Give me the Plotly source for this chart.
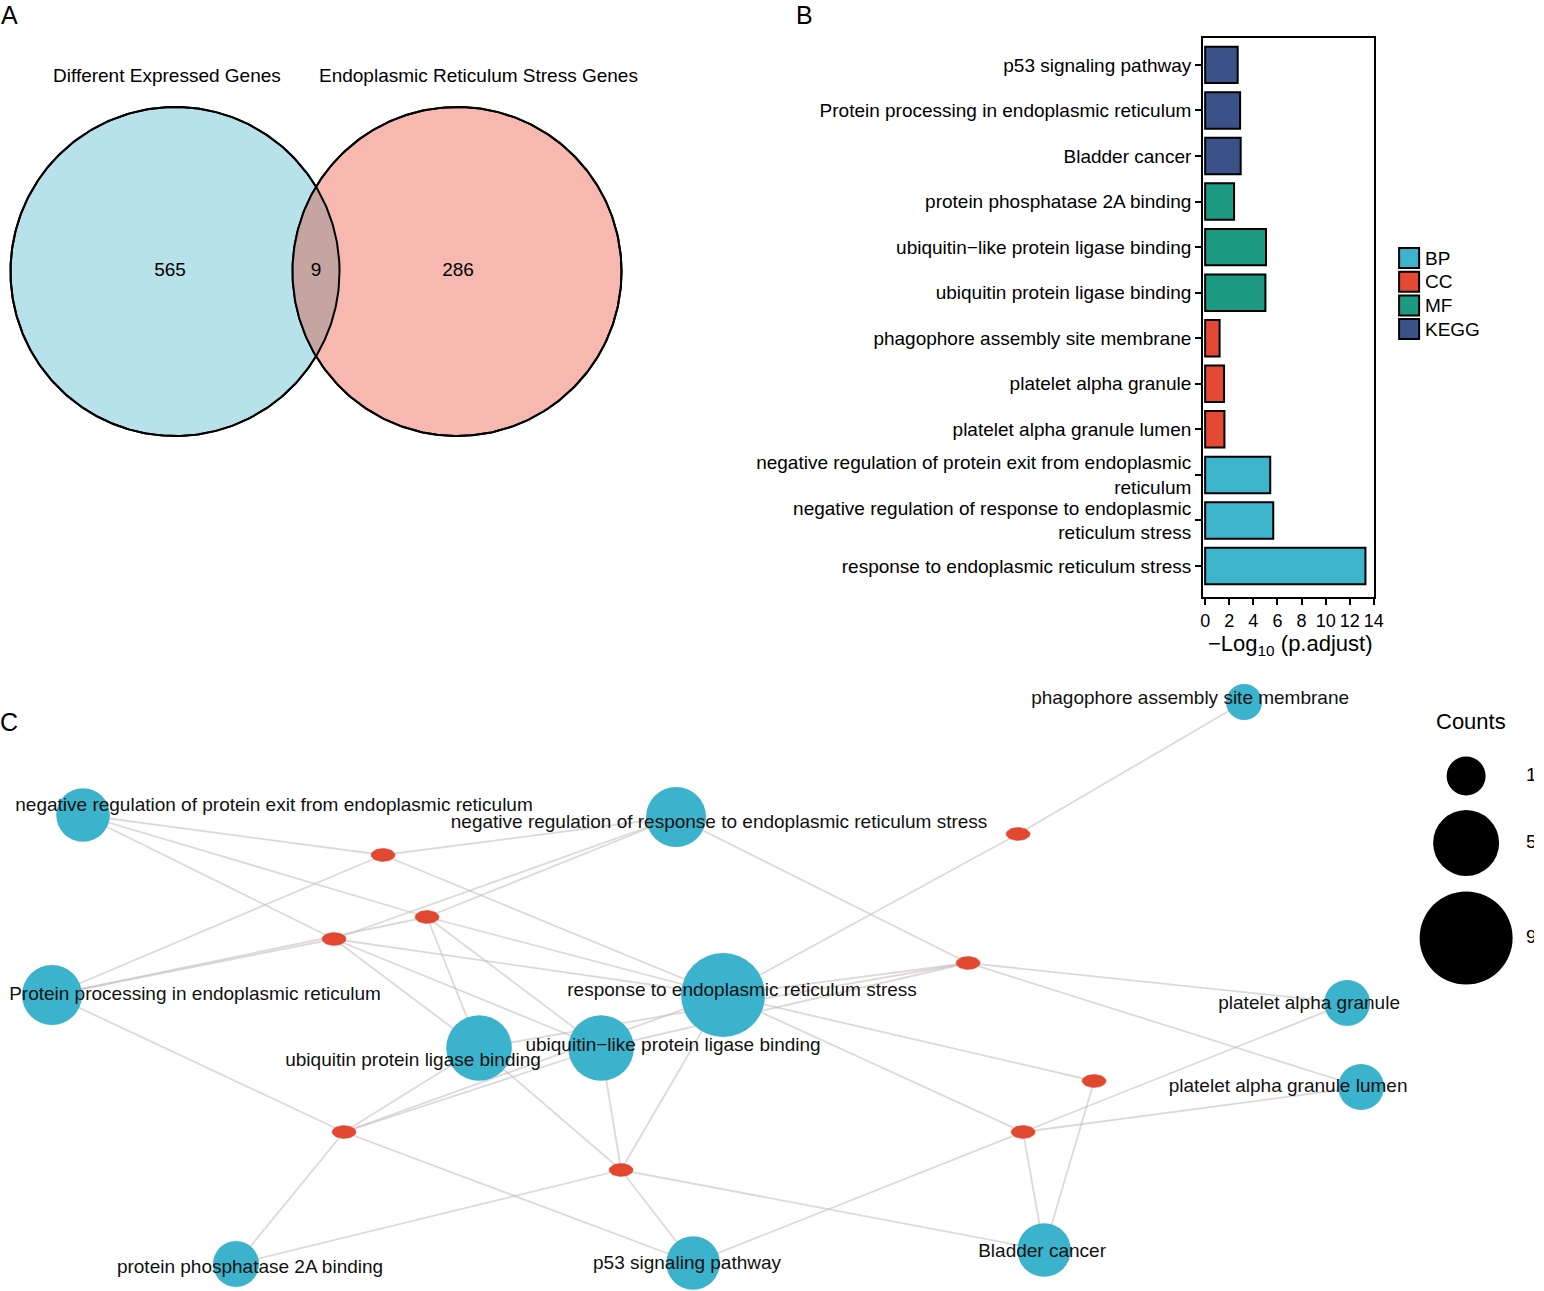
import numpy as np
import plotly.graph_objects as go

W, H = 1544, 1291
FONT = "Liberation Sans, Arial, Helvetica, sans-serif"

# ---------------- Panel A data ----------------
venn_set_names = ["Different Expressed Genes", "Endoplasmic Reticulum Stress Genes"]
venn_only_left = 565
venn_overlap = 9
venn_only_right = 286

# ---------------- Panel B data ----------------
enrich_terms = [
    "p53 signaling pathway",
    "Protein processing in endoplasmic reticulum",
    "Bladder cancer",
    "protein phosphatase 2A binding",
    "ubiquitin\u2212like protein ligase binding",
    "ubiquitin protein ligase binding",
    "phagophore assembly site membrane",
    "platelet alpha granule",
    "platelet alpha granule lumen",
    "negative regulation of protein exit from endoplasmic<br>reticulum",
    "negative regulation of response to endoplasmic<br>reticulum stress",
    "response to endoplasmic reticulum stress",
]
enrich_ontology = ["KEGG", "KEGG", "KEGG", "MF", "MF", "MF", "CC", "CC", "CC", "BP", "BP", "BP"]
enrich_neglog10_padj = [2.7, 2.9, 2.95, 2.4, 5.05, 5.0, 1.2, 1.57, 1.6, 5.4, 5.65, 13.3]
ontology_levels = ["BP", "CC", "MF", "KEGG"]
x_ticks_b = [0, 2, 4, 6, 8, 10, 12, 14]

# ---------------- Panel C data ----------------
net_terms = [
    "negative regulation of protein exit from endoplasmic reticulum",
    "negative regulation of response to endoplasmic reticulum stress",
    "Protein processing in endoplasmic reticulum",
    "response to endoplasmic reticulum stress",
    "ubiquitin protein ligase binding",
    "ubiquitin\u2212like protein ligase binding",
    "phagophore assembly site membrane",
    "platelet alpha granule",
    "platelet alpha granule lumen",
    "protein phosphatase 2A binding",
    "p53 signaling pathway",
    "Bladder cancer",
]
net_term_counts = [3, 4, 4, 9, 5, 5, 1, 2, 2, 2, 3, 3]
# node layout (as drawn in the network)
net_term_x = [83, 676, 52, 723, 479, 601, 1244, 1347, 1361, 236, 693, 1044]
net_term_y = [815, 817, 995, 995, 1048, 1048, 702, 1003, 1087, 1264, 1263, 1250]
net_gene_x = [383, 427, 334, 1018, 968, 1094, 1023, 344, 621]
net_gene_y = [855, 917, 939, 834, 963, 1081, 1132, 1132, 1170]
# gene -> term memberships (indices into net_terms)
net_gene_terms = [
    [0, 1, 2, 3],
    [0, 1, 2, 3, 4, 5],
    [0, 1, 2, 3, 4, 5],
    [6, 3],
    [1, 3, 4, 5, 7, 8],
    [3, 11],
    [3, 7, 8, 10, 11],
    [2, 3, 4, 5, 9, 10],
    [3, 4, 5, 9, 10, 11],
]
count_legend_values = [1, 5, 9]

# ---------------- styles / layout constants ----------------
ont_colors = {"BP": "#3CB4CC", "CC": "#E44A33", "MF": "#1D9A82", "KEGG": "#3A5288"}
term_color = "#3BB3CC"
gene_color = "#E2472F"
edge_color = "rgba(195,185,185,0.55)"
LBL = 19
# label anchor points for network (repelled label positions)
net_label_x = [274, 719, 195, 742, 413, 673, 1190, 1309, 1288, 250, 687, 1042]
net_label_y = [806, 823, 995, 991, 1061, 1046, 699, 1004, 1087, 1268, 1264, 1252]

# horizontal calibration of the page (observed render scale/offset)
SX, CX = 0.9915, 3.0
def xdom(px):
    return (px - CX) / SX / W

fig = go.Figure()

# ===== Panel A: Venn =====
cLx, cRx, cy, R = 175.0, 457.0, 271.5, 164.5
t = np.linspace(0, 2 * np.pi, 361)
fig.add_trace(go.Scatter(x=cLx + R * np.cos(t), y=cy + R * np.sin(t), mode="lines",
                         fill="toself", fillcolor="#B8E2EA", line=dict(color="black", width=2),
                         hoverinfo="skip", xaxis="x", yaxis="y"))
fig.add_trace(go.Scatter(x=cRx + R * np.cos(t), y=cy + R * np.sin(t), mode="lines",
                         fill="toself", fillcolor="#F6B8AF", line=dict(color="black", width=2),
                         hoverinfo="skip", xaxis="x", yaxis="y"))
half = (cRx - cLx) / 2
a0 = np.arccos(half / R)
ta = np.linspace(-a0, a0, 100)
tb = np.linspace(np.pi - a0, np.pi + a0, 100)
lens_x = np.concatenate([cLx + R * np.cos(ta), cRx + R * np.cos(tb)])
lens_y = np.concatenate([cy + R * np.sin(ta), cy + R * np.sin(tb)])
fig.add_trace(go.Scatter(x=lens_x, y=lens_y, mode="lines", fill="toself", fillcolor="#C4A5A2",
                         line=dict(width=0, color="rgba(0,0,0,0)"), hoverinfo="skip",
                         xaxis="x", yaxis="y"))
for cx_ in (cLx, cRx):
    fig.add_trace(go.Scatter(x=cx_ + R * np.cos(t), y=cy + R * np.sin(t), mode="lines",
                             line=dict(color="black", width=2), hoverinfo="skip",
                             xaxis="x", yaxis="y"))
fig.add_trace(go.Scatter(
    x=[170, (cLx + cRx) / 2, 458], y=[cy, cy, cy], mode="text",
    text=[str(venn_only_left), str(venn_overlap), str(venn_only_right)],
    textfont=dict(family=FONT, size=LBL, color="black"), hoverinfo="skip",
    xaxis="x", yaxis="y"))
annotations = []
for name, xc in zip(venn_set_names, [167, 478]):
    annotations.append(dict(x=xc, y=75, xref="x", yref="y", text=name, showarrow=False,
                            font=dict(family=FONT, size=LBL, color="black"),
                            xanchor="center", yanchor="middle"))

# ===== Panel B: bar chart =====
fig.add_trace(go.Bar(
    x=enrich_neglog10_padj, y=enrich_terms, orientation="h", width=0.8,
    marker=dict(color=[ont_colors[o] for o in enrich_ontology],
                line=dict(color="black", width=2)),
    xaxis="x2", yaxis="y2", hoverinfo="skip"))

shapes = []
for i, ont in enumerate(ontology_levels):
    yc = 258 + i * 23.7
    shapes.append(dict(type="rect", xref="x", yref="y", x0=1399, x1=1419, y0=yc - 10, y1=yc + 10,
                       fillcolor=ont_colors[ont], line=dict(color="black", width=2), layer="above"))
    annotations.append(dict(x=1423, y=yc, xref="x", yref="y", text=ont, showarrow=False,
                            xanchor="left", yanchor="middle",
                            font=dict(family=FONT, size=LBL, color="black")))
annotations.append(dict(x=1290, y=645, xref="x", yref="y", text="\u2212Log<sub>10</sub> (p.adjust)",
                        showarrow=False, xanchor="center", yanchor="middle",
                        font=dict(family=FONT, size=22, color="black")))

# ===== Panel C: network =====
ex, ey = [], []
for g, terms in enumerate(net_gene_terms):
    for ti in terms:
        ex += [net_gene_x[g], net_term_x[ti], None]
        ey += [net_gene_y[g], net_term_y[ti], None]
fig.add_trace(go.Scatter(x=ex, y=ey, mode="lines", line=dict(color=edge_color, width=1.8),
                         hoverinfo="skip", xaxis="x", yaxis="y"))

# gene ellipses
rx, ry = 12, 6.5
tt = np.linspace(0, 2 * np.pi, 40)
gx, gy = [], []
for x0, y0 in zip(net_gene_x, net_gene_y):
    gx += list(x0 + rx * np.cos(tt)) + [None]
    gy += list(y0 + ry * np.sin(tt)) + [None]
fig.add_trace(go.Scatter(x=gx, y=gy, mode="lines", fill="toself", fillcolor=gene_color,
                         line=dict(color=gene_color, width=0.5), hoverinfo="skip",
                         xaxis="x", yaxis="y"))

def node_diam(c):
    return 12 + 24 * np.sqrt(c)

fig.add_trace(go.Scatter(
    x=net_term_x, y=net_term_y, mode="markers",
    marker=dict(size=[node_diam(c) for c in net_term_counts], color=term_color,
                line=dict(width=0), opacity=1),
    hoverinfo="skip", xaxis="x", yaxis="y"))
fig.add_trace(go.Scatter(
    x=net_label_x, y=net_label_y, mode="text", text=net_terms,
    textfont=dict(family=FONT, size=LBL, color="#111111"), textposition="middle center",
    hoverinfo="skip", xaxis="x", yaxis="y"))

# size legend
leg_y = [776, 843, 938]
fig.add_trace(go.Scatter(
    x=[1466] * len(count_legend_values), y=leg_y, mode="markers",
    marker=dict(size=[39 + (c - 1) * 6.75 for c in count_legend_values], color="#000000",
                opacity=1, line=dict(width=0)),
    hoverinfo="skip", xaxis="x", yaxis="y"))
fig.add_trace(go.Scatter(
    x=[1526] * len(count_legend_values), y=leg_y, mode="text",
    text=[str(c) for c in count_legend_values], textposition="middle right",
    textfont=dict(family=FONT, size=LBL, color="black"), hoverinfo="skip",
    xaxis="x", yaxis="y"))
annotations.append(dict(x=1471, y=721, xref="x", yref="y", text="Counts", showarrow=False,
                        xanchor="center", yanchor="middle",
                        font=dict(family=FONT, size=22, color="black")))

# panel letters
for letter, px, py in [("A", 9, 15), ("B", 804, 15), ("C", 9, 722)]:
    annotations.append(dict(x=px, y=py, xref="x", yref="y", text=letter, showarrow=False,
                            xanchor="center", yanchor="middle",
                            font=dict(family=FONT, size=25, color="black")))

fig.update_layout(
    width=W, height=H, autosize=False,
    margin=dict(l=0, r=0, t=0, b=0, pad=0),
    paper_bgcolor="white", plot_bgcolor="rgba(0,0,0,0)",
    showlegend=False,
    xaxis=dict(domain=[0, 1], range=[CX, CX + W * SX], visible=False, fixedrange=True),
    yaxis=dict(domain=[0, 1], range=[H, 0], visible=False, fixedrange=True),
    xaxis2=dict(domain=[xdom(1203), xdom(1374)], anchor="y2", range=[-0.17, 14.02],
                tickvals=x_ticks_b, ticktext=[str(v) for v in x_ticks_b],
                ticks="outside", ticklen=6, tickwidth=2, tickcolor="black",
                showline=True, mirror=True, linewidth=2, linecolor="black",
                showgrid=False, zeroline=False, fixedrange=True,
                tickfont=dict(family=FONT, size=18, color="black")),
    yaxis2=dict(domain=[1 - 597 / H, 1 - 38 / H], anchor="x2",
                type="category", categoryorder="array", categoryarray=enrich_terms,
                range=[len(enrich_terms) - 1 + 0.68, -0.59],
                ticks="outside", ticklen=6, tickwidth=2, tickcolor="black",
                showline=True, mirror=True, linewidth=2, linecolor="black",
                showgrid=False, zeroline=False, fixedrange=True,
                tickfont=dict(family=FONT, size=LBL, color="black")),
    annotations=annotations,
    shapes=shapes,
)

fig.write_html("out.html",
               config={"displayModeBar": False, "responsive": False},
               post_script="document.body.style.margin='0px';")
